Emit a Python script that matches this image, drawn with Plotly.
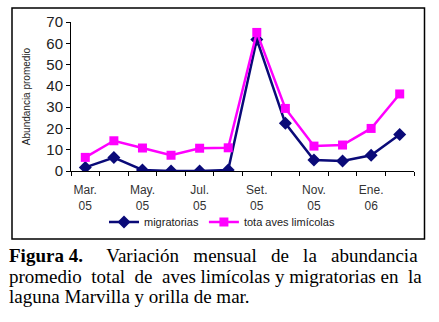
import plotly.graph_objects as go

months = ["Mar. 05", "Abr. 05", "May. 05", "Jun. 05", "Jul. 05", "Ago. 05",
          "Set. 05", "Oct. 05", "Nov. 05", "Dic. 05", "Ene. 06", "Feb. 06"]
migratorias = [1.7, 6.3, 0.5, 0.0, 0.0, 0.5, 61.8, 22.4, 5.2, 4.7, 7.4, 17.2]
total_limicolas = [6.4, 14.2, 10.8, 7.4, 10.7, 10.9, 65.1, 29.4, 11.7, 12.2, 20.0, 36.2]
tick_labels = ["Mar.<br>05", "May.<br>05", "Jul.<br>05", "Set.<br>05", "Nov.<br>05", "Ene.<br>06"]
y_ticks = [0, 10, 20, 30, 40, 50, 60, 70]

W, H = 439, 322
xs = list(range(len(months)))

fig = go.Figure()
fig.add_trace(go.Scatter(
    x=xs, y=migratorias, name="migratorias", mode="lines+markers",
    line=dict(color="#0a0a78", width=2.5),
    marker=dict(symbol="diamond", size=10, color="#0a0a78"),
))
fig.add_trace(go.Scatter(
    x=xs, y=total_limicolas, name="tota aves limícolas", mode="lines+markers",
    line=dict(color="#ff00ff", width=2.5),
    marker=dict(symbol="square", size=9, color="#ff00ff"),
))

def px_x(p):
    return p / W

def px_y(p):
    return 1 - p / H

fig.update_layout(
    width=W, height=H,
    margin=dict(l=0, r=0, t=0, b=0, autoexpand=False),
    paper_bgcolor="white", plot_bgcolor="white",
    font=dict(family="Liberation Sans, Arial, sans-serif", color="#222222"),
    showlegend=True,
    legend=dict(orientation="h", x=px_x(222), xanchor="center", y=px_y(222), yanchor="middle",
                font=dict(size=11, color="#222222"), itemwidth=30,
                bgcolor="rgba(0,0,0,0)", tracegroupgap=0),
    xaxis=dict(
        domain=[px_x(71), px_x(414)],
        range=[-0.5, len(months) - 0.5],
        automargin=False,
        tickmode="array", tickvals=xs[::2], ticktext=tick_labels,
        ticks="", showline=True, linecolor="black", linewidth=1,
        showgrid=False, zeroline=False,
        tickfont=dict(size=12, color="#333333"),
        minor=dict(tickmode="array", tickvals=[i - 0.5 for i in range(len(months) + 1)],
                   ticks="outside", ticklen=4, tickcolor="black", showgrid=False),
        ticklabelstandoff=8,
    ),
    yaxis=dict(
        domain=[px_y(171), px_y(22)],
        range=[0, 70], tickmode="array", tickvals=y_ticks,
        automargin=False,
        ticks="outside", ticklen=4, tickcolor="black",
        showline=True, linecolor="black", linewidth=1,
        showgrid=False, zeroline=False,
        tickfont=dict(size=15, color="#222222"),
        title=dict(text="Abundancia promedio", font=dict(size=10, color="#222222"), standoff=13),
    ),
    shapes=[dict(type="rect", xref="paper", yref="paper",
                 x0=px_x(12), x1=px_x(424.5), y0=px_y(239), y1=px_y(8),
                 line=dict(color="black", width=1.5))],
)

serif = "Liberation Serif, Times New Roman, serif"
fig.add_annotation(xref="paper", yref="paper", x=px_x(7), y=px_y(256), xanchor="left", yanchor="middle",
                   showarrow=False, align="left",
                   text="<b>Figura 4.</b>" + " " * 5 + "Variación   mensual   de   la   abundancia",
                   font=dict(family=serif, size=19, color="black"))
fig.add_annotation(xref="paper", yref="paper", x=px_x(7), y=px_y(276), xanchor="left", yanchor="middle",
                   showarrow=False, align="left",
                   text="promedio  total  de  aves limícolas y migratorias en  la",
                   font=dict(family=serif, size=19, color="black"))
fig.add_annotation(xref="paper", yref="paper", x=px_x(7), y=px_y(296), xanchor="left", yanchor="middle",
                   showarrow=False, align="left",
                   text="laguna Marvilla y orilla de mar.",
                   font=dict(family=serif, size=19, color="black"))

fig.write_html("out.html", config={"displayModeBar": False},
               post_script="document.body.style.margin='0';document.body.style.overflow='hidden';")
